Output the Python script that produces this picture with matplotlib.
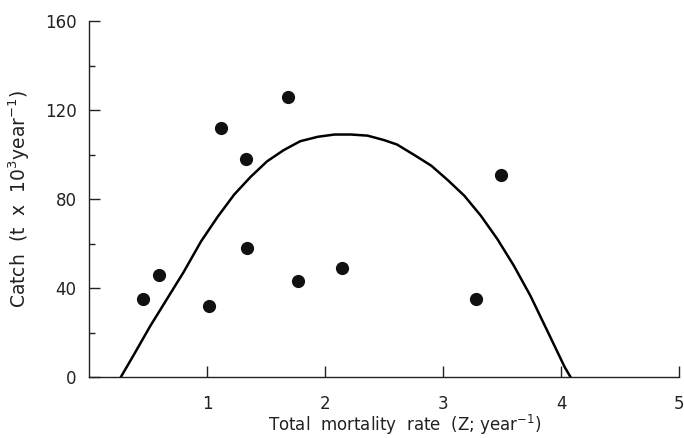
#!/usr/bin/env python3

# Catch vs total mortality rate, observed points and fitted yield curve
# Usage:
#   $ python3 plot.py

import matplotlib
matplotlib.use('Agg')
import matplotlib.pyplot as plt
import numpy as np


# Observed catches (t x 10^3 / year) against Z (1/year)
obs_z = [0.46, 0.59, 1.02, 1.12, 1.33, 1.34, 1.69, 1.77, 2.14, 3.28, 3.49]
obs_catch = [35, 46, 32, 112, 98, 58, 126, 43, 49, 35, 91]

# Fitted curve
curve_z = [0.27, 0.38, 0.52, 0.66, 0.80, 0.95, 1.09, 1.23, 1.37, 1.51,
           1.65, 1.79, 1.94, 2.08, 2.22, 2.36, 2.50, 2.61, 2.75, 2.90,
           3.04, 3.18, 3.32, 3.46, 3.60, 3.74, 3.89, 4.03, 4.08]
curve_catch = [0, 10, 23, 35, 47, 61, 72, 82, 90, 97,
               102, 106, 108, 109, 109, 108.5, 106.5, 104.5, 100, 95,
               88.5, 81.5, 72.5, 62, 50, 36.5, 20, 4.5, 0]

y_major = [0, 40, 80, 120, 160]
y_minor = [20, 60, 100, 140]
x_major = [1, 2, 3, 4, 5]


def main():

  plt.rcParams['font.family'] = ['DejaVu Sans']
  plt.rcParams['mathtext.fontset'] = 'dejavusans'

  fig = plt.figure(figsize=(6.84, 4.38), dpi=100)
  ax = fig.add_axes([0.13, 0.139, 0.863, 0.813])

  ax.plot(curve_z, curve_catch, color='black', lw=1.8, solid_capstyle='round',
          solid_joinstyle='round')
  ax.plot(obs_z, obs_catch, 'o', color='#111111', ms=9.5, mew=0)

  ax.set_xlim(0, 5)
  ax.set_ylim(0, 160)

  for side in ['top', 'right']:
    ax.spines[side].set_visible(False)
  for side in ['left', 'bottom']:
    ax.spines[side].set_linewidth(1.0)
    ax.spines[side].set_color('#222222')

  ax.set_xticks(x_major)
  ax.set_xticklabels([str(v) for v in x_major])
  ax.set_yticks(y_major)
  ax.set_yticks(y_minor, minor=True)
  ax.set_yticklabels([str(v) for v in y_major])

  ax.tick_params(axis='both', which='major', direction='in', length=8,
                 width=1.0, colors='#222222', labelsize=12)
  ax.tick_params(axis='y', which='minor', direction='in', length=4, width=1.0,
                 colors='#222222')
  ax.tick_params(axis='y', which='major', pad=9)
  ax.tick_params(axis='x', which='major', pad=13)

  ax.set_xlabel('Total  mortality  rate  (Z; year$^{-1}$)', fontsize=12,
                color='#222222')
  # Put the x label just under the tick labels, a bit right of centre
  ax.xaxis.set_label_coords(0.535, -0.1)
  ax.set_ylabel('Catch  (t  x  10$^3$year$^{-1}$)', fontsize=13.5,
                labelpad=9, color='#222222')

  fig.savefig('out.png', dpi=100)


if __name__ == '__main__':
  main()
